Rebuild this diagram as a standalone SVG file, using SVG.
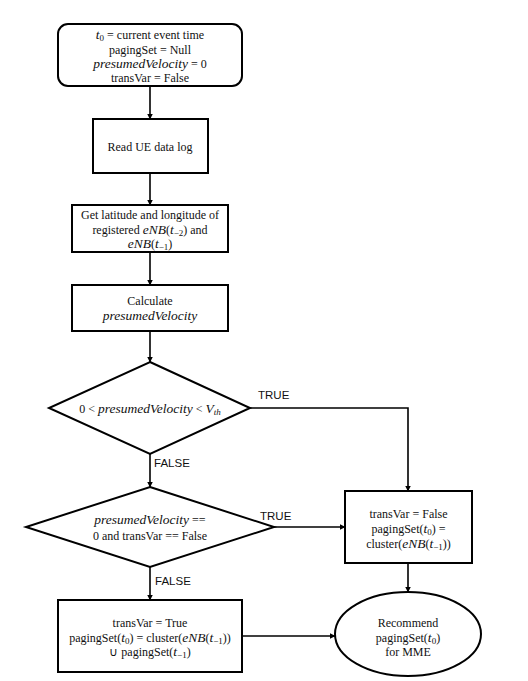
<svg xmlns="http://www.w3.org/2000/svg" width="528" height="681" viewBox="0 0 528 681">
<defs>
<marker id="ah" markerWidth="6" markerHeight="6" refX="5.5" refY="3" orient="auto" markerUnits="userSpaceOnUse">
<path d="M0,0 L6,3 L0,6 Z" fill="#000"/>
</marker>
<style>
.box{fill:#fff;stroke:#000;stroke-width:2}
.t{font-family:"Liberation Serif","Times New Roman",serif;font-size:12px;fill:#111;text-anchor:middle}
.m{font-family:"Liberation Serif","Times New Roman",serif;font-style:italic;font-size:13.5px}
.s{font-size:9px}
.lbl{font-family:"Liberation Sans",Arial,sans-serif;font-size:11.5px;fill:#111}
.c{fill:none;stroke:#000;stroke-width:1.6}
</style>
</defs>
<rect width="528" height="681" fill="#fff"/>
<g id="connectors">
<line class="c" x1="150" y1="86" x2="150" y2="119" marker-end="url(#ah)"/>
<line class="c" x1="150" y1="173" x2="150" y2="205" marker-end="url(#ah)"/>
<line class="c" x1="150" y1="252" x2="150" y2="285" marker-end="url(#ah)"/>
<line class="c" x1="150" y1="331" x2="150" y2="362" marker-end="url(#ah)"/>
<polyline class="c" points="250,408 408,408 408,491" marker-end="url(#ah)"/>
<line class="c" x1="150" y1="454" x2="150" y2="487" marker-end="url(#ah)"/>
<line class="c" x1="274" y1="527" x2="345" y2="527" marker-end="url(#ah)"/>
<line class="c" x1="150" y1="567" x2="150" y2="600" marker-end="url(#ah)"/>
<line class="c" x1="242" y1="636" x2="335" y2="636" marker-end="url(#ah)"/>
<line class="c" x1="408" y1="563" x2="408" y2="592" marker-end="url(#ah)"/>
<text class="lbl" x="258" y="399">TRUE</text>
<text class="lbl" x="154" y="467">FALSE</text>
<text class="lbl" x="260" y="520">TRUE</text>
<text class="lbl" x="155" y="585">FALSE</text>
</g>
<g id="start">
<rect class="box" x="58" y="24" width="184" height="62" rx="10"/>
<text class="t" x="150" y="38.5"><tspan class="m">t</tspan><tspan class="s" dy="2">0</tspan><tspan dy="-2"> = current event time</tspan></text>
<text class="t" x="150" y="53.5">pagingSet = Null</text>
<text class="t" x="150" y="67.5"><tspan class="m">presumedVelocity</tspan> = 0</text>
<text class="t" x="150" y="82">transVar = False</text>
</g>
<g id="read">
<rect class="box" x="93" y="119" width="115" height="54"/>
<text class="t" x="150" y="151">Read UE data log</text>
</g>
<g id="getlatlon">
<rect class="box" x="72" y="205" width="156" height="47"/>
<text class="t" x="150" y="218.5">Get latitude and longitude of</text>
<text class="t" x="150" y="233.5">registered <tspan class="m">eNB</tspan>(<tspan class="m">t</tspan><tspan class="s" dy="2">−2</tspan><tspan dy="-2">) and</tspan></text>
<text class="t" x="150" y="248"><tspan class="m">eNB</tspan>(<tspan class="m">t</tspan><tspan class="s" dy="2">−1</tspan><tspan dy="-2">)</tspan></text>
</g>
<g id="calc">
<rect class="box" x="72" y="285" width="156" height="46"/>
<text class="t" x="150" y="304.5">Calculate</text>
<text class="t" x="150" y="320"><tspan class="m">presumedVelocity</tspan></text>
</g>
<g id="dec1">
<polygon class="box" points="150,362 250,408 150,454 49,408"/>
<text class="t" x="150" y="412.5">0 &lt; <tspan class="m">presumedVelocity</tspan> &lt; <tspan class="m">V</tspan><tspan class="m s" dy="2">th</tspan></text>
</g>
<g id="dec2">
<polygon class="box" points="150,487 274,527 150,567 26,527"/>
<text class="t" x="150" y="524"><tspan class="m">presumedVelocity</tspan> ==</text>
<text class="t" x="150" y="540">0 and transVar == False</text>
</g>
<g id="setfalse">
<rect class="box" x="345" y="491" width="127" height="72"/>
<text class="t" x="408.5" y="517.5">transVar = False</text>
<text class="t" x="408.5" y="532.5">pagingSet(<tspan class="m">t</tspan><tspan class="s" dy="2">0</tspan><tspan dy="-2">) =</tspan></text>
<text class="t" x="408.5" y="547.5">cluster(<tspan class="m">eNB</tspan>(<tspan class="m">t</tspan><tspan class="s" dy="2">−1</tspan><tspan dy="-2">))</tspan></text>
</g>
<g id="settrue">
<rect class="box" x="58" y="600" width="184" height="72"/>
<text class="t" x="150" y="626.5">transVar = True</text>
<text class="t" x="150" y="641.5">pagingSet(<tspan class="m">t</tspan><tspan class="s" dy="2">0</tspan><tspan dy="-2">) = cluster(</tspan><tspan class="m">eNB</tspan>(<tspan class="m">t</tspan><tspan class="s" dy="2">−1</tspan><tspan dy="-2">))</tspan></text>
<text class="t" x="150" y="655.5">∪ pagingSet(<tspan class="m">t</tspan><tspan class="s" dy="2">−1</tspan><tspan dy="-2">)</tspan></text>
</g>
<g id="recommend">
<ellipse class="box" cx="408" cy="634" rx="73" ry="42"/>
<text class="t" x="408" y="626.5">Recommend</text>
<text class="t" x="408" y="641.5">pagingSet(<tspan class="m">t</tspan><tspan class="s" dy="2">0</tspan><tspan dy="-2">)</tspan></text>
<text class="t" x="408" y="655.5">for MME</text>
</g>
</svg>
